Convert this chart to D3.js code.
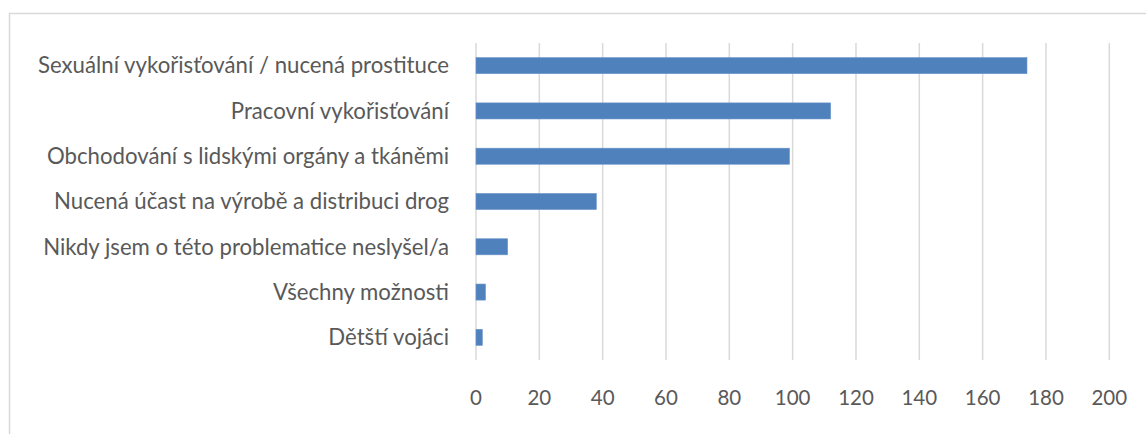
<!DOCTYPE html>
<html><head><meta charset="utf-8">
<script src="https://cdn.jsdelivr.net/npm/d3@7"></script>
<style>body{margin:0;background:#fff}svg{display:block}</style>
</head><body>
<script>
const categories = [
  "Sexuální vykořisťování / nucená prostituce",
  "Pracovní vykořisťování",
  "Obchodování s lidskými orgány a tkáněmi",
  "Nucená účast na výrobě a distribuci drog",
  "Nikdy jsem o této problematice neslyšel/a",
  "Všechny možnosti",
  "Dětští vojáci"
];
const values = [174, 112, 99, 38, 10, 3, 2];
const xTicks = [0, 20, 40, 60, 80, 100, 120, 140, 160, 180, 200];

const W = 1146, H = 434;
const svg = d3.select("body").append("svg").attr("width", W).attr("height", H);
svg.append("rect").attr("x", 9.5).attr("y", 13.5).attr("width", W + 20).attr("height", H + 20)
  .attr("fill", "none").attr("stroke", "#d9d9d9").attr("stroke-width", 1.5);

const x = d3.scaleLinear().domain([0, 200]).range([476, 1109.3]);
const y = d3.scaleBand().domain(categories).range([43, 360]).paddingInner(0.645).paddingOuter(0.3225);
const font = "Lato, 'Open Sans', sans-serif";

svg.append("g").selectAll("line").data(xTicks).join("line")
  .attr("x1", d => x(d)).attr("x2", d => x(d)).attr("y1", 43).attr("y2", 360)
  .attr("stroke", "#d9d9d9").attr("stroke-width", 1.5);

svg.append("g").selectAll("rect").data(values).join("rect")
  .attr("x", x(0)).attr("y", (d, i) => y(categories[i]))
  .attr("width", d => x(d) - x(0)).attr("height", y.bandwidth())
  .attr("fill", "#4f81bd").attr("stroke", "#6b95c9").attr("stroke-width", 0.6);

svg.append("g").selectAll("text").data(categories).join("text")
  .attr("x", 449).attr("y", d => y(d) + y.bandwidth() / 2)
  .attr("dy", "0.35em").attr("text-anchor", "end")
  .attr("font-family", font).attr("font-size", 22.2).attr("fill", "#595959")
  .text(d => d);

svg.append("g").selectAll("text").data(xTicks).join("text")
  .attr("x", d => x(d)).attr("y", 398).attr("dy", "0.35em").attr("text-anchor", "middle")
  .attr("font-family", font).attr("font-size", 20.5).attr("fill", "#595959")
  .text(d => d);
</script>
</body></html>
